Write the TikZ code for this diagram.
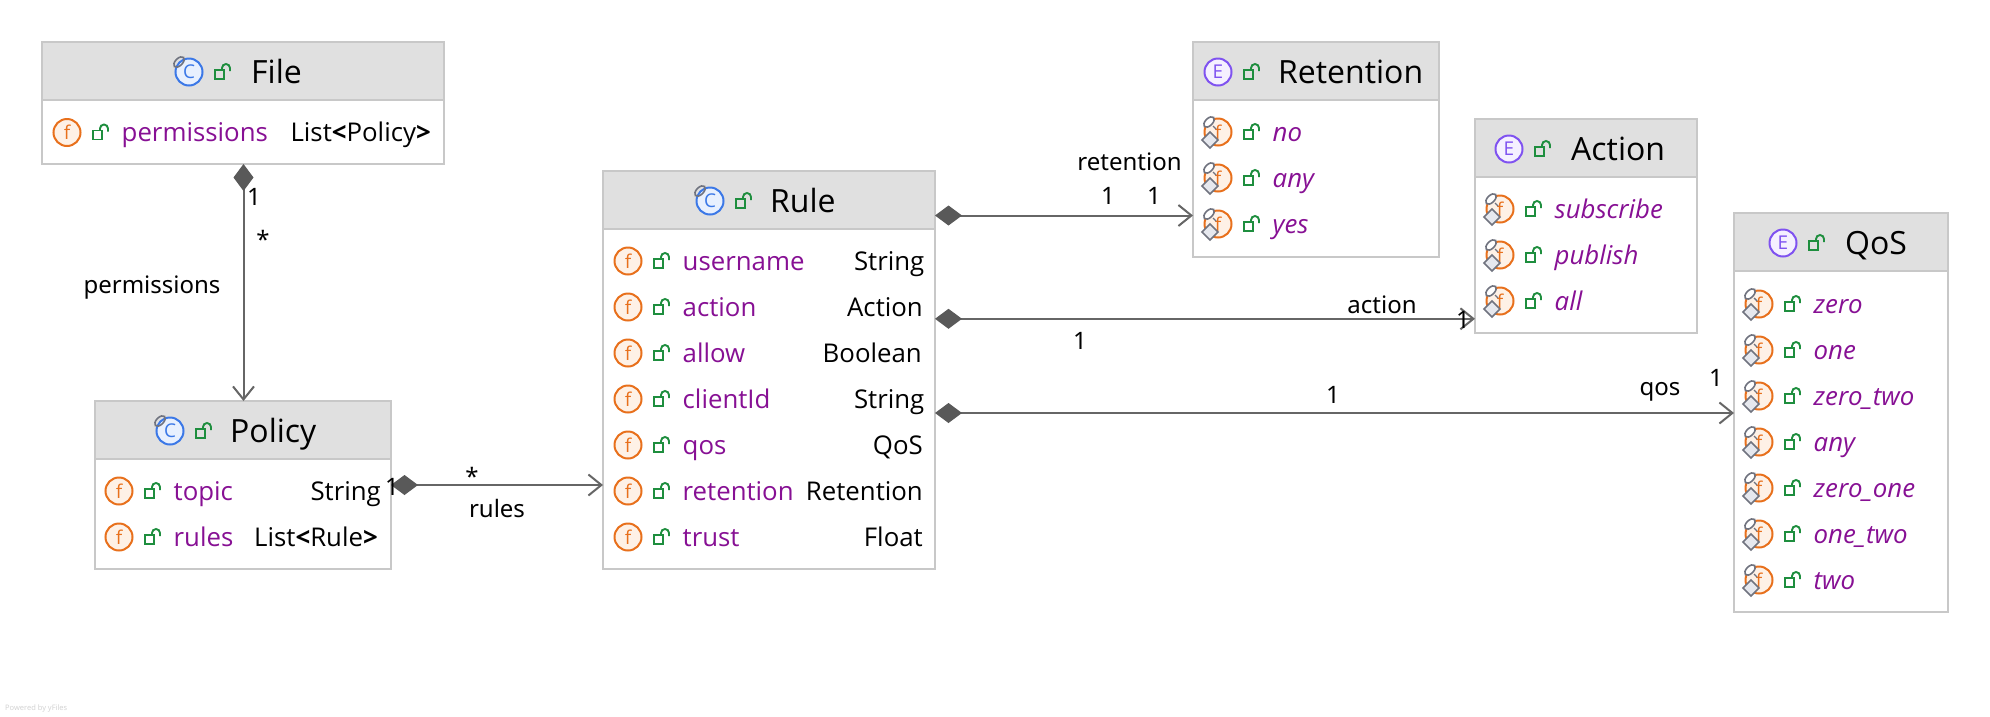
\documentclass[tikz,border=0pt]{standalone}
\usepackage{fontspec}
\setmainfont{Open Sans}
\newfontfamily\edgefont{Noto Sans}
\usetikzlibrary{arrows.meta}
\definecolor{hdr}{HTML}{E0E0E0}
\definecolor{bord}{HTML}{C8C8C8}
\definecolor{conn}{HTML}{666666}
\definecolor{dia}{HTML}{595959}
\definecolor{memb}{HTML}{871094}
\definecolor{orng}{HTML}{E8701C}
\definecolor{orngf}{HTML}{FEF1E6}
\definecolor{blu}{HTML}{3B78E7}
\definecolor{bluf}{HTML}{E8F0FE}
\definecolor{prp}{HTML}{7F52F0}
\definecolor{prpf}{HTML}{F5F0FF}
\definecolor{grn}{HTML}{1E8E3E}
\definecolor{markc}{HTML}{70737F}
\definecolor{markf}{HTML}{E6E8EE}
\newcount\lblc
\newcommand{\nextlbl}{\global\advance\lblc by 1 }
\tikzset{
  x=1pt,y=-1pt,
  umlbox/.style={draw=bord,line width=1.3pt,fill=none,inner sep=0,outer sep=0,rectangle},
  conline/.style={draw=conn,line width=2pt,{Diamond[length=27pt,width=20pt,color=dia,fill=dia]}-{Straight Barb[length=13pt,width=21pt,line width=2pt,color=conn]}},
  titletext/.style={anchor=base west,font=\fontsize{32}{34}\selectfont,inner sep=0,text=black},
  membertext/.style={anchor=base west,font=\fontsize{25.8}{28}\selectfont,inner sep=0,text=memb},
  typetext/.style={anchor=base east,font=\fontsize{25.8}{28}\selectfont,inner sep=0,text=black},
  edgetext/.style={font=\edgefont\fontsize{24}{26}\selectfont,inner sep=0,text=black},
  iconletter/.style={inner sep=0,font=\fontsize{19}{20}\selectfont},
  lockpart/.style={draw=grn,line width=1.9pt},
  markpart/.style={draw=markc,line width=1.6pt,fill=markf}
}
% box: name x1 y1 x2 y2 headerBottom
\newcommand{\umlclass}[6]{%
  \fill[hdr] (#2,#3) rectangle (#4,#6);
  \draw[bord,line width=2pt] (#2,#6) -- (#4,#6);
  \node[umlbox,minimum width={#4-#2},minimum height={#5-#3}] (#1) at ({(#2+#4)/2},{(#3+#5)/2}) {};
}
\newcommand{\lockicon}[2]{%
  \begin{scope}[shift={(#1,#2)}]
    \draw[lockpart] (-8,-2) rectangle (1,7);
    \draw[lockpart] (-1,-2) -- (-1,-4) arc[start angle=180,end angle=0,radius=4pt] -- (7,-1);
  \end{scope}}
\newcommand{\circicon}[5]{% x y color fill letter
  \nextlbl
  \node[circle,draw=#3,fill=#4,line width=2pt,minimum size=27pt,inner sep=0,text=#3,iconletter] (ic\the\lblc) at (#1,#2) {#5};
}
\newcommand{\classhead}[4]{% iconx y titlex title
  \circicon{#1}{#2}{blu}{bluf}{C}
  \begin{scope}[shift={(#1,#2)}]
    \draw[markc,line width=1.6pt,rotate around={45:(-10,-10)}] (-10,-10) ellipse[x radius=6.5pt,y radius=3.6pt];
  \end{scope}
  \lockicon{#1+34}{#2}
  \nextlbl\node[titletext] (lb\the\lblc) at (#3,#2+11) {#4};
}
\newcommand{\enumhead}[4]{%
  \circicon{#1}{#2}{prp}{prpf}{E}
  \lockicon{#1+34}{#2}
  \nextlbl\node[titletext] (lb\the\lblc) at (#3,#2+11) {#4};
}
\newcommand{\fieldrow}[5]{% iconx y name type typeright
  \circicon{#1}{#2}{orng}{orngf}{f}
  \lockicon{#1+34}{#2}
  \nextlbl\node[membertext] (lb\the\lblc) at (#1+54.5,#2+9) {#3};
  \nextlbl\node[typetext] (lb\the\lblc) at (#5,#2+9) {#4};
}
\newcommand{\enumrow}[3]{% iconx y name
  \circicon{#1}{#2}{orng}{orngf}{f}
  \begin{scope}[shift={(#1,#2)}]
    \draw[markpart,fill=white,rotate around={45:(-9,-10)}] (-9,-10) ellipse[x radius=6.5pt,y radius=3.6pt];
    \draw[markc,line width=1.4pt] (-5,-6) -- (-2,-3);
    \draw[markpart] (-8,0) -- (0,8) -- (-8,16) -- (-16,8) -- cycle;
  \end{scope}
  \lockicon{#1+34}{#2}
  \nextlbl\node[membertext,font=\fontsize{25.8}{28}\selectfont\itshape] (lb\the\lblc) at (#1+54.5,#2+9) {#3};
}
\newcommand{\edgelabel}[3]{\nextlbl\node[edgetext] (lb\the\lblc) at (#1,#2) {#3};}
\begin{document}
\begin{tikzpicture}
\useasboundingbox (0,0) rectangle (1990,716);
\fill[white] (0,0) rectangle (1990,716);

% boxes
\umlclass{file}{42}{42}{444}{164}{100}
\umlclass{policy}{95}{401}{391}{569}{459}
\umlclass{rule}{603}{171}{935}{569}{229}
\umlclass{retention}{1193}{42}{1439}{257}{100}
\umlclass{action}{1475}{119}{1697}{333}{177}
\umlclass{qos}{1734}{213}{1948}{612}{271}

\begin{scope}[yshift=-1pt]
% File
\classhead{189}{71}{251}{File}
\fieldrow{67}{131.5}{permissions}{List\textbf{<}Policy\textbf{>}}{431}
% Policy
\classhead{170}{430}{230}{Policy}
\fieldrow{119}{490}{topic}{String}{381}
\fieldrow{119}{536}{rules}{List\textbf{<}Rule\textbf{>}}{378}
% Rule
\classhead{710}{200}{770}{Rule}
\fieldrow{628}{260}{username}{String}{924.5}
\fieldrow{628}{306}{action}{Action}{923}
\fieldrow{628}{352}{allow}{Boolean}{922}
\fieldrow{628}{398}{clientId}{String}{924.5}
\fieldrow{628}{444}{qos}{QoS}{923}
\fieldrow{628}{490}{retention}{Retention}{923}
\fieldrow{628}{536}{trust}{Float}{923}
% Retention
\enumhead{1218}{71}{1278}{Retention}
\enumrow{1218}{131}{no}
\enumrow{1218}{177}{any}
\enumrow{1218}{223}{yes}
% Action
\enumhead{1509}{148}{1571}{Action}
\enumrow{1500}{208}{subscribe}
\enumrow{1500}{254}{publish}
\enumrow{1500}{300}{all}
% QoS
\enumhead{1783}{242}{1845}{QoS}
\enumrow{1759}{303}{zero}
\enumrow{1759}{349}{one}
\enumrow{1759}{395}{zero\_two}
\enumrow{1759}{441}{any}
\enumrow{1759}{487}{zero\_one}
\enumrow{1759}{533}{one\_two}
\enumrow{1759}{579}{two}
\end{scope}

% connectors
\draw[conline] (file.south -| 243.5,0) -- (policy.north -| 243.5,0);
\draw[conline] (policy.east |- 0,485) -- (rule.west |- 0,485);
\draw[conline] (rule.east |- 0,215.5) -- (retention.west |- 0,215.5);
\draw[conline] (rule.east |- 0,318.8) -- (action.west |- 0,318.8);
\draw[conline] (rule.east |- 0,413) -- (qos.west |- 0,413);

% connector labels
\edgelabel{254}{197}{1}
\edgelabel{263}{239}{*}
\edgelabel{152}{287.5}{permissions}
\edgelabel{392}{487}{1}
\edgelabel{472}{476}{*}
\edgelabel{497}{508}{rules}
\edgelabel{1129.5}{162}{retention}
\edgelabel{1108}{196}{1}
\edgelabel{1154}{196}{1}
\edgelabel{1382}{305}{action}
\edgelabel{1080}{341}{1}
\edgelabel{1463}{320}{1}
\edgelabel{1333}{395}{1}
\edgelabel{1660}{392}{qos}
\edgelabel{1716}{378}{1}

% footer
\nextlbl\node[anchor=base west,inner sep=0,text=black!18,font=\fontsize{7.5}{8}\selectfont] (lb\the\lblc) at (5,710) {Powered by yFiles};
\end{tikzpicture}
\end{document}
